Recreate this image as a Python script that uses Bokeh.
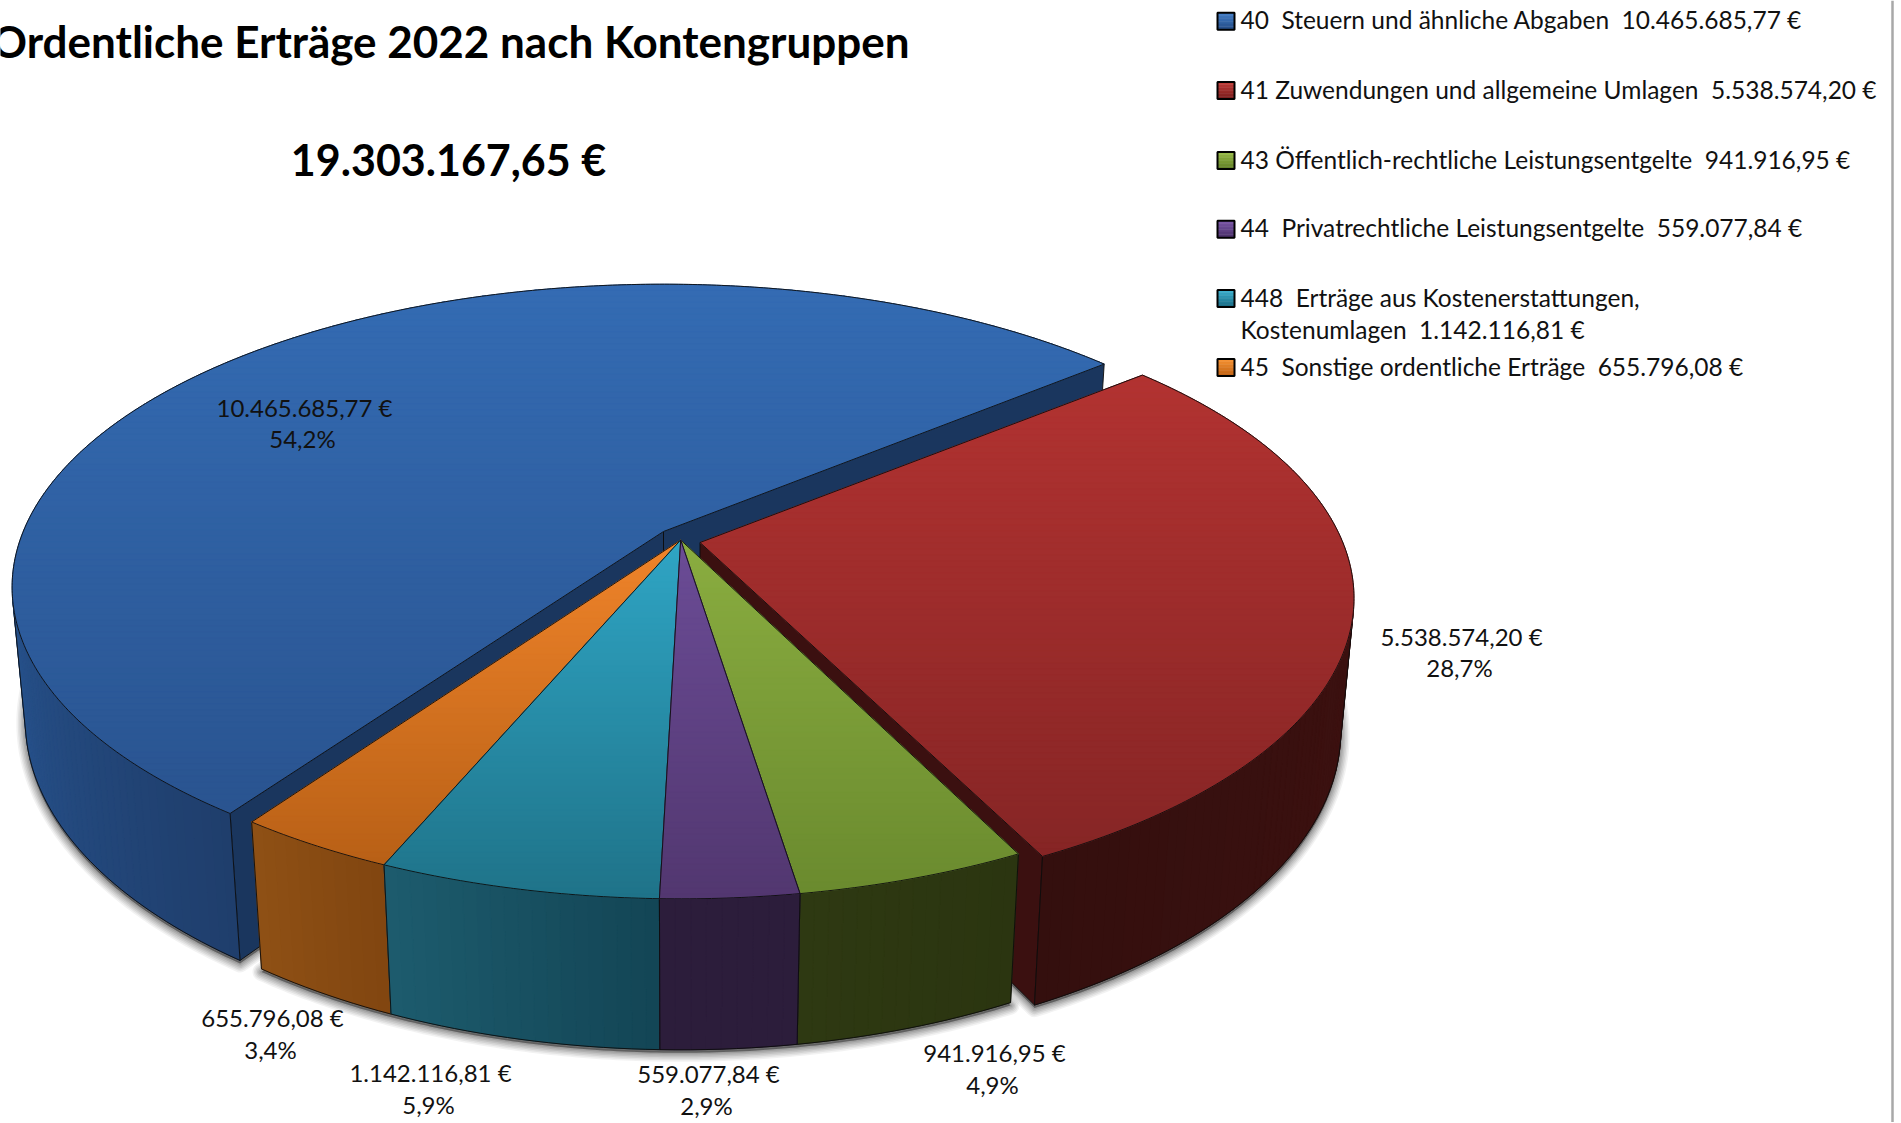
import numpy as np
from bokeh.plotting import figure
from bokeh.models import Range1d
from bokeh.core.properties import value
from bokeh.embed import file_html
from bokeh.resources import INLINE

# ---------- data ----------
TITLE = "Ordentliche Erträge 2022 nach Kontengruppen"
TOTAL = 19303167.65
NB = "\u00a0\u00a0"
names = [f"40{NB}Steuern und ähnliche Abgaben", "41 Zuwendungen und allgemeine Umlagen",
         "43 Öffentlich-rechtliche Leistungsentgelte", f"44{NB}Privatrechtliche Leistungsentgelte",
         f"448{NB}Erträge aus Kostenerstattungen,|Kostenumlagen", f"45{NB}Sonstige ordentliche Erträge"]
amounts = [10465685.77, 5538574.20, 941916.95, 559077.84, 1142116.81, 655796.08]

# ---------- styles (top colour at the two reference heights, wall colour right/left) ----------
top_stops = [((47, 96, 162), (40, 80, 138)), ((163, 46, 45), (130, 36, 36)),
             ((138, 173, 64), (106, 138, 46)), ((107, 76, 150), (82, 55, 112)),
             ((47, 165, 196), (31, 115, 137)), ((240, 132, 42), (178, 92, 20))]
wall_stops = [((31, 62, 108), (39, 82, 140)), ((61, 17, 16), (52, 15, 14)),
              ((43, 53, 16), (46, 57, 18)), ((44, 29, 59), (44, 29, 59)),
              ((19, 69, 85), (29, 92, 110)), ((129, 69, 16), (143, 81, 21))]
radial_colors = [(26, 54, 94), (59, 16, 16)]
legend_stops = [((66, 124, 196), (38, 80, 140)), ((190, 60, 56), (125, 30, 30)),
                ((150, 185, 70), (100, 130, 40)), ((120, 85, 165), (78, 50, 110)),
                ((60, 175, 205), (25, 110, 135)), ((245, 145, 50), (195, 100, 20))]

# projection parameters of the tilted pie
A, B, K, M, C = 639.0, 292.8, 0.184, 0.02, 133.4
ROT = 215.1
Y1, Y2 = 540.0, 898.0
centers = [(663, 531), (699.5, 542), (680.2, 539.5), (680.2, 539.5), (680.2, 539.5), (680.2, 539.5)]
x_scale = [1.002, 1.006, 0.992, 0.992, 0.992, 0.992]
label_xy = [(304, 408, 439), (1461, 637, 668), (994, 1053, 1085), (708, 1074, 1106),
            (430, 1073, 1105), (272, 1018, 1050)]
legend_y = [20.7, 90, 160, 228.7, 298, 367]

W, H = 1900, 1122
p = figure(width=W, height=H, output_backend="svg", toolbar_location=None,
           x_range=Range1d(0, W), y_range=Range1d(H, 0), min_border=0)
p.axis.visible = False
p.grid.visible = False
p.outline_line_color = None
p.background_fill_color = "white"


def proj(theta, r, z, cen, sx=1.0):
    t = np.radians(theta)
    u, v = np.sin(t) * r, -np.cos(t) * r
    w = 1 - K * v + M * z
    return cen[0] + sx * A * u / w, cen[1] + (B * v + C * z) / w


# silhouette angle: where the line towards the vanishing point of the walls touches the rim
_th = np.linspace(200, 300, 2001)
_vy = C / M
_xy = [proj(t, 1, 0, (0, 0)) for t in _th]
TH_LEFT = float(_th[int(np.argmax([abs(q[0]) / (_vy - q[1]) for q in _xy]))])
SIDE_LIMITS = (360.0 - TH_LEFT, TH_LEFT)


def lerp(a, b, t):
    return tuple(int(np.clip(round(a[i] + (b[i] - a[i]) * t), 0, 255)) for i in range(3))


def hexc(c):
    return "#%02x%02x%02x" % c


def clip(poly, y0, keep_below):
    out = []
    n = len(poly)
    for i in range(n):
        a, b = poly[i], poly[(i + 1) % n]
        ina = a[1] >= y0 if keep_below else a[1] <= y0
        inb = b[1] >= y0 if keep_below else b[1] <= y0
        if ina:
            out.append(a)
        if ina != inb:
            s = (y0 - a[1]) / (b[1] - a[1])
            out.append((a[0] + (b[0] - a[0]) * s, y0))
    return out


def wedge_poly(a0, a1, z, cen, sx=1.0):
    th = np.linspace(a0, a1, max(8, int((a1 - a0) * 2)))
    pts = [proj(0, 0, z, cen, sx)]
    pts += [proj(t, 1, z, cen, sx) for t in th]
    return pts


def draw_top(i, a0, a1):
    poly = wedge_poly(a0, a1, 0, centers[i], x_scale[i])
    ys = [q[1] for q in poly]
    mid = hexc(lerp(*top_stops[i], ((min(ys) + max(ys)) / 2 - Y1) / (Y2 - Y1)))
    p.patch([q[0] for q in poly], [q[1] for q in poly], fill_color=mid, line_color=None)
    edges = np.arange(min(ys), max(ys) + 6, 6)
    xs_, ys_, cols = [], [], []
    for e0, e1 in zip(edges[:-1], edges[1:]):
        band = clip(clip(poly, e0, True), e1, False)
        if len(band) < 3:
            continue
        xs_.append([q[0] for q in band])
        ys_.append([q[1] for q in band])
        cols.append(hexc(lerp(*top_stops[i], ((e0 + e1) / 2 - Y1) / (Y2 - Y1))))
    p.patches(xs_, ys_, fill_color=cols, line_color=cols, line_width=1.0)
    p.patch([q[0] for q in poly], [q[1] for q in poly], fill_color=None, line_color="#0c0c0c",
            line_width=1, line_alpha=0.9, line_join="round")


def draw_wall(i, a0, a1):
    a0, a1 = max(a0, SIDE_LIMITS[0]), min(a1, SIDE_LIMITS[1])
    if a1 <= a0:
        return
    cen, sx = centers[i], x_scale[i]
    th = np.linspace(a0, a1, max(6, int((a1 - a0) * 1.0)))
    whole = [proj(t, 1, 0, cen, sx) for t in th] + [proj(t, 1, 1, cen, sx) for t in th[::-1]]
    p.patch([c[0] for c in whole], [c[1] for c in whole], fill_color=hexc(lerp(*wall_stops[i], 0.5)), line_color=None)
    xs_, ys_, cols = [], [], []
    for t0, t1 in zip(th[:-1], th[1:]):
        q = [proj(t0, 1, 0, cen, sx), proj(t1, 1, 0, cen, sx), proj(t1, 1, 1, cen, sx), proj(t0, 1, 1, cen, sx)]
        xs_.append([c[0] for c in q])
        ys_.append([c[1] for c in q])
        cols.append(hexc(lerp(*wall_stops[i], ((t0 + t1) / 2 - a0) / (a1 - a0))))
    p.patches(xs_, ys_, fill_color=cols, line_color=cols, line_width=1.0)
    out = [proj(a0, 1, 0, cen, sx)] + [proj(t, 1, 1, cen, sx) for t in th] + [proj(a1, 1, 0, cen, sx)]
    p.line([c[0] for c in out], [c[1] for c in out], line_color="#0c0c0c", line_width=1,
           line_alpha=0.9, line_join="round")


def draw_radial(i, ang, col):
    cen, sx = centers[i], x_scale[i]
    q = [proj(ang, 0, 0, cen, sx), proj(ang, 1, 0, cen, sx), proj(ang, 1, 1, cen, sx), proj(ang, 0, 1, cen, sx)]
    p.patch([c[0] for c in q], [c[1] for c in q], fill_color=hexc(col), line_color="#0c0c0c",
            line_width=1, line_alpha=0.9)


# angles from the values
fr = np.array(amounts) / sum(amounts) * 360
starts = ROT + np.concatenate([[0], np.cumsum(fr)[:-1]])
ends = starts + fr
spans = [(float(a), float(b)) for a, b in zip(starts, ends)]
spans = [(spans[0][0], spans[0][1])] + [(a - 360, b - 360) for a, b in spans[1:]]

# shadow
for lw, al in zip([18, 15, 12, 9, 6, 3], [0.05, 0.06, 0.07, 0.08, 0.09, 0.10]):
    groups = [(spans[0][0], spans[0][1], 0), (spans[1][0], spans[1][1], 1), (spans[2][0], spans[5][1], 2)]
    for a0, a1, i in groups:
        poly = wedge_poly(a0, a1, 1, (centers[i][0], centers[i][1] + 3), x_scale[i])
        p.patch([q[0] for q in poly], [q[1] for q in poly], fill_color="#000000", fill_alpha=al,
                line_color="#000000", line_alpha=al, line_width=lw, line_join="round")

# blue
draw_radial(0, spans[0][0], radial_colors[0])
draw_radial(0, spans[0][1], radial_colors[0])
draw_wall(0, *spans[0])
draw_top(0, *spans[0])
# red
draw_radial(1, spans[1][1], radial_colors[1])
draw_wall(1, *spans[1])
draw_top(1, *spans[1])
# group of the small slices
for i in [5, 4, 2, 3]:
    draw_wall(i, *spans[i])
for i in [5, 4, 2, 3]:
    draw_top(i, *spans[i])


def de(v):
    return f"{v:,.2f}".replace(",", "#").replace(".", ",").replace("#", ".") + " €"


FONT = value("Lato")
TEXT = "#111111"


def txt(x, y, s, size, bold=False, align="left", color=TEXT):
    p.text([x], [y - 1.5], text=[s], text_font=FONT, text_font_size=f"{size}px", text_color=color,
           text_align=align, text_baseline="middle", text_font_style="bold" if bold else "normal")


txt(909, 42, TITLE, 44, bold=True, align="right", color="#000000")
txt(448, 160, de(TOTAL), 43, bold=True, align="center", color="#000000")

# data labels
for (x, y1, y2), v in zip(label_xy, amounts):
    txt(x, y1, de(v), 24, align="center")
    txt(x - 2, y2, f"{v / sum(amounts) * 100:.1f}%".replace(".", ","), 24, align="center")

# legend
LEG = 24.5
for i, (nm, v, y) in enumerate(zip(names, amounts, legend_y)):
    yy = np.linspace(y - 8.5, y + 8.5, 7)
    cols = [hexc(lerp(*legend_stops[i], t)) for t in np.linspace(0, 1, 6)]
    p.quad(left=[1217] * 6, right=[1234] * 6, top=list(yy[:-1]), bottom=list(yy[1:]), fill_color=cols, line_color=cols, line_width=0.5)
    p.quad(left=[1217], right=[1234], top=[y - 8.5], bottom=[y + 8.5], fill_color=None, line_color="#000000", line_width=2)
    parts = nm.split("|")
    if len(parts) == 2:
        txt(1240, y, parts[0], LEG)
        txt(1240, y + 32, parts[1] + NB + de(v), LEG)
    else:
        txt(1240, y, parts[0] + NB + de(v), LEG)

# right frame line of the screenshot
p.line([1892, 1892], [0, H], line_color="#a8a8a8", line_width=2.5)

open("out.html", "w").write(file_html(p, INLINE))
